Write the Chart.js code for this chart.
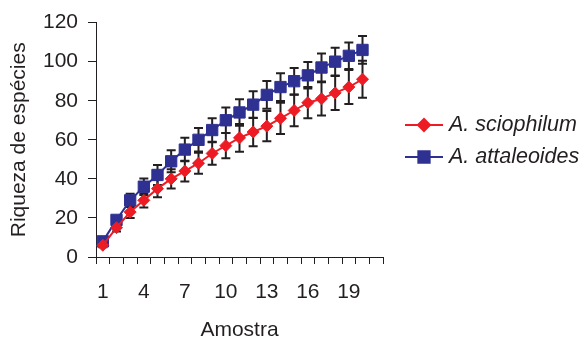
<!DOCTYPE html>
<html>
<head>
<meta charset="utf-8">
<script src="https://cdn.jsdelivr.net/npm/chart.js@4/dist/chart.umd.min.js"></script>
<style>
  body { margin: 0; background: #fff; }
  #wrap { width: 584px; height: 340px; }
</style>
</head>
<body>
<div id="wrap"><canvas id="myChart"></canvas></div>
<script>
// samples 1..21 (last one is empty, like the original axis)
var amostras = ['1','2','3','4','5','6','7','8','9','10','11','12','13','14','15','16','17','18','19','20','21'];

var sciophilum = [6, 15, 23, 29, 35, 40, 44, 48, 53, 57, 61, 64, 67, 71, 75, 79, 81, 84, 87, 91];
var attaleoides = [8, 19, 29, 36, 42, 49, 55, 60, 65, 70, 74, 78, 83, 87, 90, 93, 97, 100, 103, 106];

// +/- error (desvio)
var errSciophilum = [1, 2, 3, 3.7, 4.4, 4.9, 5.3, 5.4, 5.8, 6.5, 7.1, 7.3, 7.7, 8, 8, 8, 8.5, 8.7, 8.7, 9.5];
var errAttaleoides = [0.5, 1.5, 3.4, 4.2, 5.1, 5.6, 6, 6, 6, 6.5, 6.8, 6.8, 7.1, 7.1, 6.8, 6.8, 7.2, 7.1, 6.8, 7.1];

var yTicks = [0, 20, 40, 60, 80, 100, 120];

var ink = '#231f20';
var fontFam = '"Liberation Sans", Arial, sans-serif';

// error bars, drawn under the lines
var errorBars = {
    id: 'errorBars',
    beforeDatasetsDraw: function(chart) {
        var ctx = chart.ctx;
        var yScale = chart.scales.y;
        ctx.save();
        ctx.strokeStyle = ink;
        ctx.lineWidth = 2;
        chart.data.datasets.forEach(function(ds, i) {
            var meta = chart.getDatasetMeta(i);
            meta.data.forEach(function(pt, j) {
                var v = ds.data[j];
                var e = ds.errors[j];
                var top = yScale.getPixelForValue(v + e);
                var bot = yScale.getPixelForValue(v - e);
                ctx.beginPath();
                ctx.moveTo(pt.x, top);
                ctx.lineTo(pt.x, bot);
                ctx.moveTo(pt.x - 4.5, top);
                ctx.lineTo(pt.x + 4.5, top);
                ctx.moveTo(pt.x - 4.5, bot);
                ctx.lineTo(pt.x + 4.5, bot);
                ctx.stroke();
            });
        });
        ctx.restore();
    }
};

// legend on the right, line + marker like the original
var sideLegend = {
    id: 'sideLegend',
    afterDraw: function(chart) {
        var ctx = chart.ctx;
        ctx.save();
        chart.data.datasets.forEach(function(ds, i) {
            var y = 125 + i * 32;
            ctx.strokeStyle = ds.borderColor;
            ctx.lineWidth = 2;
            ctx.beginPath();
            ctx.moveTo(405, y);
            ctx.lineTo(443, y);
            ctx.stroke();
            Chart.helpers.drawPoint(ctx, {
                pointStyle: ds.pointStyle,
                radius: ds.pointRadius,
                borderWidth: 1
            }, 424, y);
            ctx.fillStyle = ds.pointBackgroundColor;
            ctx.fill();
            ctx.fillStyle = ink;
            ctx.font = 'italic 21.5px ' + fontFam;
            ctx.textBaseline = 'middle';
            ctx.fillText(ds.label, 449, y);
        });
        ctx.restore();
    }
};

var ctx = document.getElementById('myChart').getContext('2d');
var chart = new Chart(ctx, {
    type: 'line',
    data: {
        labels: amostras,
        datasets: [
            {
                label: 'A. sciophilum',
                data: sciophilum,
                errors: errSciophilum,
                borderColor: '#ed1c24',
                backgroundColor: '#ed1c24',
                pointBackgroundColor: '#ed1c24',
                pointBorderColor: '#ed1c24',
                borderWidth: 2,
                pointStyle: 'rectRot',
                pointRadius: 6,
                pointBorderWidth: 1
            },
            {
                label: 'A. attaleoides',
                data: attaleoides,
                errors: errAttaleoides,
                borderColor: '#2e3192',
                backgroundColor: '#2e3192',
                pointBackgroundColor: '#2e3192',
                pointBorderColor: '#2e3192',
                borderWidth: 2,
                pointStyle: 'rect',
                pointRadius: 8,
                pointBorderWidth: 1
            }
        ]
    },
    options: {
        responsive: true,
        maintainAspectRatio: false,
        animation: false,
        layout: { padding: { left: 3, right: 201, top: 10, bottom: 0 } },
        plugins: {
            legend: { display: false },
            tooltip: { enabled: false }
        },
        scales: {
            x: {
                type: 'category',
                offset: true,
                afterFit: function(scale) { scale.height = 83; },
                grid: { offset: true, drawOnChartArea: false, drawTicks: true, tickLength: 7, color: ink },
                border: { color: ink, width: 1 },
                ticks: {
                    autoSkip: false,
                    maxRotation: 0,
                    padding: 16,
                    color: ink,
                    font: { family: fontFam, size: 21 },
                    callback: function(val, idx) { return idx % 3 === 0 ? this.getLabelForValue(val) : ''; }
                },
                title: {
                    display: true,
                    text: 'Amostra',
                    color: ink,
                    font: { family: fontFam, size: 21, lineHeight: 0.9 },
                    padding: { top: 11, bottom: 0 }
                }
            },
            y: {
                min: 0,
                max: 120,
                afterFit: function(scale) { scale.width = 93; },
                afterBuildTicks: function(scale) {
                    scale.ticks = yTicks.map(function(v) { return { value: v }; });
                },
                grid: { drawOnChartArea: false, drawTicks: true, tickLength: 8, color: ink },
                border: { color: ink, width: 1 },
                ticks: {
                    padding: 10,
                    color: ink,
                    font: { family: fontFam, size: 21 }
                },
                title: {
                    display: true,
                    text: 'Riqueza de espécies',
                    color: ink,
                    font: { family: fontFam, size: 21 },
                    padding: { top: 4, bottom: 11 }
                }
            }
        }
    },
    plugins: [errorBars, sideLegend]
});
</script>
</body>
</html>
